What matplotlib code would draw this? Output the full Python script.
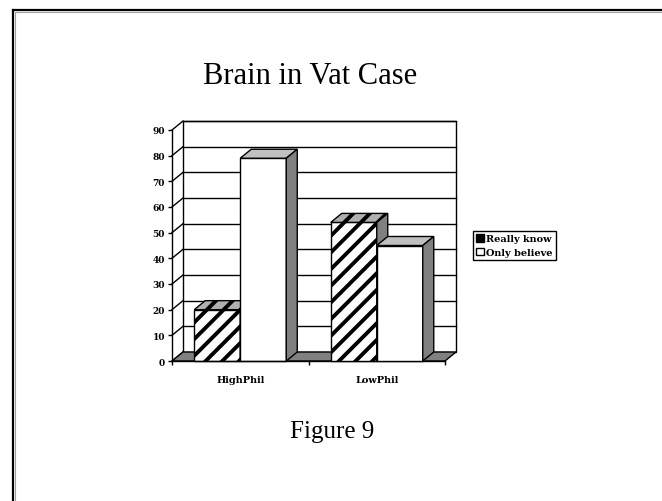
import numpy as np
import matplotlib.pyplot as plt
from matplotlib.patches import Patch
from matplotlib.lines import Line2D

# data
categories = ['HighPhil', 'LowPhil']
series = ['Really know', 'Only believe']
really_know = [20, 54]
only_believe = [79, 45]
yticks = [0, 10, 20, 30, 40, 50, 60, 70, 80, 90]

W, H = 662, 502
plt.rcParams['hatch.linewidth'] = 2.8

fig = plt.figure(figsize=(W / 100, H / 100), dpi=100)
fig.patch.set_facecolor('white')

# frame round the slide (top and left only visible)
fig.add_artist(Line2D([13 / W, 1], [1 - 11 / H, 1 - 11 / H], color='black', lw=1.6))
fig.add_artist(Line2D([13 / W, 13 / W], [0, 1 - 11 / H], color='black', lw=1.6))
fig.add_artist(Line2D([15 / W, 1], [1 - 13 / H, 1 - 13 / H], color='#a0a0a0', lw=0.8))
fig.add_artist(Line2D([15 / W, 15 / W], [0, 1 - 13 / H], color='#a0a0a0', lw=0.8))

fig.text(310 / W, 1 - 77 / H, 'Brain in Vat Case', family='Liberation Serif',
         fontsize=22, ha='center', va='center')
fig.text(332 / W, 1 - 432 / H, 'Figure 9', family='Liberation Serif',
         fontsize=18, ha='center', va='center')

ax = fig.add_axes([172 / W, 1 - 362 / H, 273 / W, 231 / H])
ax.set_xlim(0, 2)
ax.set_ylim(0, 90)
ax.patch.set_alpha(0)
for s in ['top', 'right']:
    ax.spines[s].set_visible(False)
for s in ['left', 'bottom']:
    ax.spines[s].set_linewidth(1.0)

dx = 11 / 136.5
dy = 9 / (231 / 90)
ymax = yticks[-1]
n = len(categories)

# back wall
ax.fill([dx, n + dx, n + dx, dx], [dy, dy, ymax + dy, ymax + dy],
        facecolor='white', edgecolor='black', lw=1.0, clip_on=False, zorder=0.5)
for v in yticks[1:]:
    ax.plot([dx, n + dx], [v + dy, v + dy], color='black', lw=1.0,
            clip_on=False, zorder=0.6)
# left wall grid
for v in yticks:
    ax.plot([0, dx], [v, v + dy], color='black', lw=1.0, clip_on=False, zorder=0.6)
# floor
ax.fill([0, n, n + dx, dx], [0, 0, dy, dy], facecolor='#808080',
        edgecolor='black', lw=1.0, clip_on=False, zorder=0.7)

# bars
w = 46 / 136.5
centers = np.arange(n) + 0.5
z = 1
for i in range(n):
    for j, (vals, hatch, top_c) in enumerate([(really_know, '//', '#b0b0b0'),
                                              (only_believe, None, '#c0c0c0')]):
        x0 = centers[i] - w + j * w
        x1 = x0 + w
        v = vals[i]
        ax.bar(x0, v, w, align='edge', facecolor='white', edgecolor='black',
               lw=1.0, hatch=hatch, clip_on=False, zorder=z)
        ax.fill([x0, x1, x1 + dx, x0 + dx], [v, v, v + dy, v + dy],
                facecolor=top_c, edgecolor='black', lw=1.0, hatch=hatch,
                clip_on=False, zorder=z)
        ax.fill([x1, x1 + dx, x1 + dx, x1], [0, dy, v + dy, v],
                facecolor='#808080', edgecolor='black', lw=1.0,
                clip_on=False, zorder=z)
        z += 1

ax.set_yticks(yticks)
ax.set_yticklabels([str(t) for t in yticks], family='DejaVu Serif',
                   fontweight='bold', fontsize=6.5)
ax.set_xticks([0, 1, 2])
ax.set_xticklabels([])
ax.set_xticks(centers, minor=True)
ax.set_xticklabels(categories, minor=True, family='DejaVu Serif',
                   fontweight='bold', fontsize=7)
ax.tick_params(axis='x', which='minor', length=0, pad=10)
ax.tick_params(axis='both', which='major', length=3, width=1.0, direction='out')
ax.tick_params(axis='y', pad=2)

handles = [Patch(facecolor='white', edgecolor='black', hatch='//////'),
           Patch(facecolor='white', edgecolor='black')]
leg = fig.legend(handles, series, loc='upper left',
                 bbox_to_anchor=(473 / W, 1 - 232 / H),
                 prop={'family': 'DejaVu Serif', 'weight': 'bold', 'size': 7},
                 handlelength=0.8, handleheight=0.8, handletextpad=0.2,
                 labelspacing=0.45, borderpad=0.35, borderaxespad=0,
                 fancybox=False, framealpha=1, edgecolor='black')
leg.get_frame().set_linewidth(1.0)

fig.savefig('out.png', dpi=100)
